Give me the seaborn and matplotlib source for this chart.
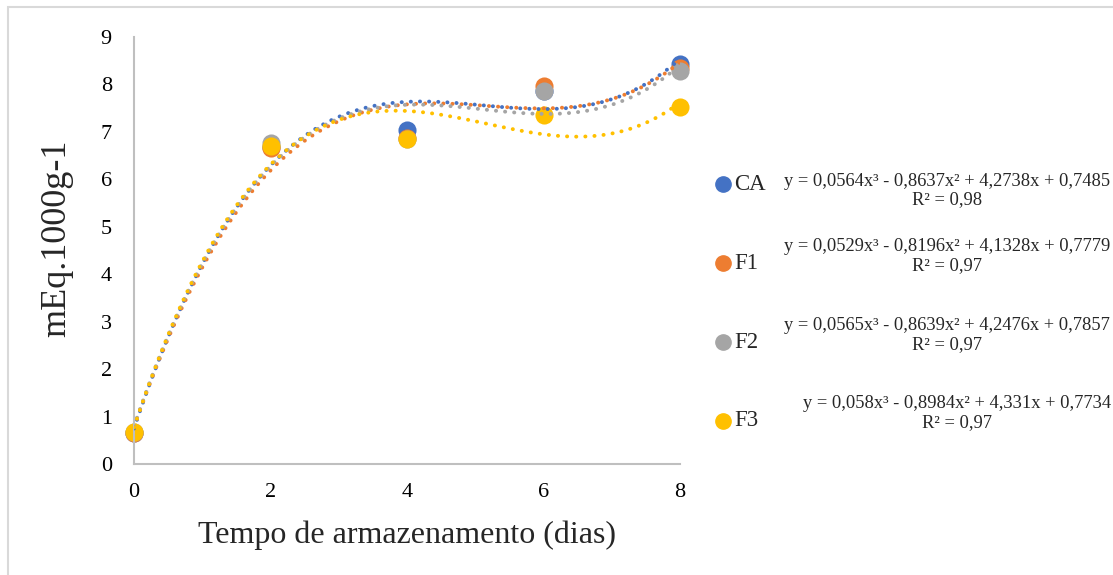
import numpy as np
import matplotlib
matplotlib.use("Agg")
import matplotlib.pyplot as plt
import seaborn as sns
from matplotlib.patches import Rectangle

# dados
dias = [0, 2, 4, 6, 8]
tratamentos = ["CA", "F1", "F2", "F3"]
ca = [0.65, 6.68, 7.05, 7.87, 8.44]
f1 = [0.66, 6.66, 6.87, 7.97, 8.35]
f2 = [0.67, 6.76, 6.85, 7.86, 8.29]
f3 = [0.67, 6.71, 6.84, 7.35, 7.52]
equacoes = ["y = 0,0564x³ - 0,8637x² + 4,2738x + 0,7485",
            "y = 0,0529x³ - 0,8196x² + 4,1328x + 0,7779",
            "y = 0,0565x³ - 0,8639x² + 4,2476x + 0,7857",
            "y = 0,058x³ - 0,8984x² + 4,331x + 0,7734"]
r2 = ["R² = 0,98", "R² = 0,97", "R² = 0,97", "R² = 0,97"]
cores = ["#4472C4", "#ED7D31", "#A5A5A5", "#FFC000"]

sns.set_style("white")
plt.rcParams['font.family'] = ['Liberation Serif', 'DejaVu Serif']

W, H = 1113, 575
fig = plt.figure(figsize=(W / 100, H / 100), dpi=100)
ax = fig.add_axes([134 / W, 1 - 464 / H, (680 - 134) / W, (464 - 37) / H])

series = [ca, f1, f2, f3]
for vals, cor in zip(series, cores):
    ax.scatter(dias, vals, s=170, color=cor, zorder=2, clip_on=False, linewidths=0)
for vals, cor in zip(series, cores):
    # linha de tendencia polinomial de ordem 3
    sns.regplot(x=dias, y=vals, order=3, ci=None, scatter=False, ax=ax, color=cor,
                line_kws=dict(linestyle=(0, (0.05, 2.3)), lw=2.8, dash_capstyle='round', zorder=3))

ax.set_xlim(0, 8)
ax.set_ylim(0, 9)
ax.set_xticks([0, 2, 4, 6, 8])
ax.set_yticks(range(0, 10))
ax.tick_params(axis='both', length=0, labelsize=16, colors='black')
ax.tick_params(axis='y', pad=16)
ax.tick_params(axis='x', pad=14)
for s in ['top', 'right']:
    ax.spines[s].set_visible(False)
for s in ['left', 'bottom']:
    ax.spines[s].set_color('#BFBFBF')
    ax.spines[s].set_linewidth(1.5)

ax.set_xlabel("")
ax.set_ylabel("")
fig.text(407 / W, 1 - 535 / H, "Tempo de armazenamento (dias)", fontsize=23,
         ha='center', va='center')
fig.text(57 / W, 1 - 238 / H, "mEq.1000g-1", fontsize=26, rotation=90,
         ha='center', va='center')

# legenda com equacoes
leg_y = [184, 263, 342, 421]
eq_y = [181, 247, 326, 404]
eq_x = [947, 947, 947, 957]
for i, nome in enumerate(tratamentos):
    fig.lines.append(plt.Line2D([723 / W], [1 - leg_y[i] / H], marker='o', markersize=11,
                                color=cores[i], linestyle='none', transform=fig.transFigure))
    fig.text(734 / W, 1 - leg_y[i] / H, nome, fontsize=16.5, ha='left', va='center')
    fig.text(eq_x[i] / W, 1 - eq_y[i] / H, equacoes[i], fontsize=13.3, ha='center', va='center')
    fig.text(eq_x[i] / W, 1 - (eq_y[i] + 19) / H, r2[i], fontsize=13.3, ha='center', va='center')

# borda
fig.patches.append(Rectangle((8 / W, -0.1), 1.2, 1 - 7 / H + 0.1, transform=fig.transFigure,
                             fill=False, edgecolor='#D9D9D9', lw=1.5))

fig.savefig("out.png", dpi=100)
